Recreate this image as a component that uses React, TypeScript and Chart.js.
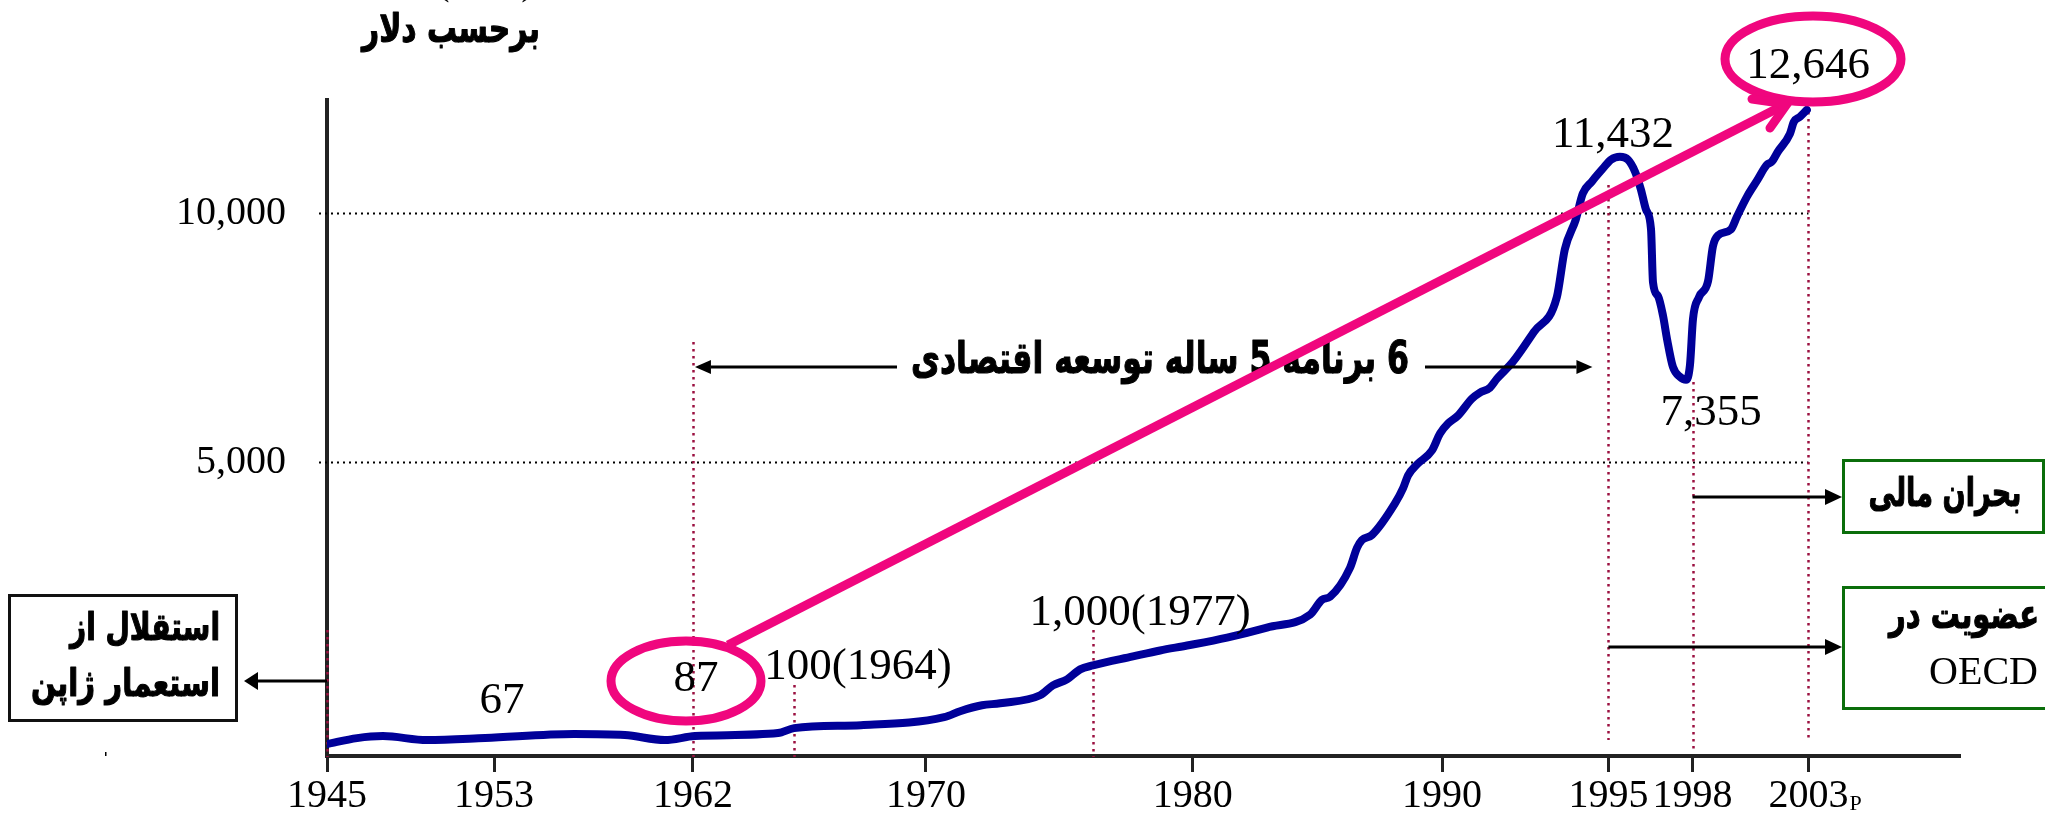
import React, { useEffect, useRef } from 'react';
import { Chart, LinearScale, registerables } from 'chart.js';

// ---------------- DATA ----------------
const xTickYears = [1945, 1953, 1962, 1970, 1980, 1990, 1995, 1998, 2003];
const yTickValues = [5000, 10000];

const years = [
  1945.0, 1946.44, 1947.68, 1949.79, 1952.57, 1956.62, 1958.92, 1960.73, 1962.07, 1964.92,
  1965.47, 1967.77, 1970.68, 1971.28, 1972.1, 1972.78, 1974.28, 1974.76, 1975.29, 1975.78,
  1976.26, 1977.76, 1978.78, 1979.79, 1981.38, 1982.98, 1984.71, 1985.19, 1985.51, 1986.31,
  1986.59, 1986.79, 1987.19, 1988.12, 1988.44, 1988.64, 1989.0, 1989.6, 1989.92, 1990.18,
  1990.48, 1990.9, 1991.14, 1991.44, 1991.65, 1992.13, 1992.76, 1993.45, 1993.69, 1994.02,
  1994.23, 1994.5, 1994.83, 1995.09, 1995.41, 1995.7, 1995.95, 1996.16, 1996.34, 1996.52,
  1996.59, 1996.77, 1996.95, 1997.09, 1997.3, 1997.55, 1997.77, 1997.91, 1998.02, 1998.28,
  1998.67, 1998.88, 1999.1, 1999.66, 1999.92, 2000.35, 2000.78, 2001.21, 2001.42, 2001.68,
  2002.2, 2002.37, 2002.63, 2002.93,
];
const gdpPerCapita = [
  203, 305, 339, 271, 305, 373, 356, 271, 339, 390,
  475, 525, 661, 763, 864, 898, 1034, 1203, 1305, 1475,
  1542, 1695, 1797, 1881, 2017, 2187, 2407, 2661, 2712, 3204,
  3543, 3678, 3763, 4305, 4560, 4780, 4966, 5240, 5580, 5780,
  5940, 6280, 6400, 6500, 6680, 7020, 7620, 8320, 9280, 9880,
  10526, 10842, 11184, 11421, 11500, 11421, 11105, 10632, 10105, 9680,
  8620, 8340, 7940, 7480, 6920, 6720, 6660, 6960, 7880, 8320,
  8640, 9340, 9560, 9680, 9940, 10447, 10869, 11290, 11370, 11632,
  12105, 12421, 12553, 12737,
];

// value labels written on the chart
const valueLabels = ['67', '87', '100(1964)', '1,000(1977)', '11,432', '7,355', '12,646'];

// ---------------- AXIS LAYOUT (hand-drawn, uneven axis spacing) ----------------
const X_WARP: [number, number][] = [
  [1945, 0], [1953, 0.1023], [1962, 0.2241], [1970, 0.3668], [1980, 0.5301],
  [1990, 0.6828], [1995, 0.7847], [1998, 0.8362], [2003, 0.9072], [2010, 1],
];
const Y_WARP: [number, number][] = [[0, 0], [5000, 0.4476], [10000, 0.827], [13000, 1]];

function warp(v: number, bps: [number, number][]) {
  let i = 0;
  while (i < bps.length - 2 && v > bps[i + 1][0]) i++;
  const [v0, f0] = bps[i];
  const [v1, f1] = bps[i + 1];
  return f0 + ((v - v0) / (v1 - v0)) * (f1 - f0);
}
function unwarp(f: number, bps: [number, number][]) {
  let i = 0;
  while (i < bps.length - 2 && f > bps[i + 1][1]) i++;
  const [v0, f0] = bps[i];
  const [v1, f1] = bps[i + 1];
  return v0 + ((f - f0) / (f1 - f0)) * (v1 - v0);
}

class XWarpScale extends LinearScale {
  static id = 'xwarp';
  getPixelForValue(value: any) {
    if (value === null || value === undefined || isNaN(value)) return NaN;
    return (this as any).getPixelForDecimal(warp(+value, X_WARP));
  }
  getValueForPixel(pixel: number) {
    return unwarp((this as any).getDecimalForPixel(pixel), X_WARP);
  }
}
class YWarpScale extends LinearScale {
  static id = 'ywarp';
  getPixelForValue(value: any) {
    if (value === null || value === undefined || isNaN(value)) return NaN;
    return (this as any).getPixelForDecimal(warp(+value, Y_WARP));
  }
  getValueForPixel(pixel: number) {
    return unwarp((this as any).getDecimalForPixel(pixel), Y_WARP);
  }
}

Chart.register(...registerables, XWarpScale as any, YWarpScale as any);

const SERIF = '"Liberation Serif", "Times New Roman", serif';
const ARABIC = '"DejaVu Sans", "Noto Sans", sans-serif';
const PINK = '#F0067E';
const MARKER = '#9B1040';
const GREEN = '#0B6E0B';

// bold Persian text, condensed horizontally to the width it takes in the picture
function drawPersian(ctx: CanvasRenderingContext2D, text: string, x: number, y: number, width: number, size: number, align: CanvasTextAlign) {
  ctx.save();
  ctx.direction = 'rtl';
  ctx.textBaseline = 'middle';
  ctx.font = `bold ${size}px ${ARABIC}`;
  const w = ctx.measureText(text).width || 1;
  const sx = Math.min(1, width / w);
  ctx.translate(x, y);
  ctx.scale(sx, 1);
  ctx.textAlign = align;
  ctx.fillStyle = '#000';
  ctx.strokeStyle = '#000';
  ctx.lineWidth = 1.2;
  ctx.lineJoin = 'round';
  ctx.fillText(text, 0, 0);
  ctx.strokeText(text, 0, 0);
  ctx.restore();
}

function drawArrow(ctx: CanvasRenderingContext2D, x1: number, y1: number, x2: number, y2: number, len: number, half: number, width: number, color: string) {
  const a = Math.atan2(y2 - y1, x2 - x1);
  const bx = x2 - len * Math.cos(a);
  const by = y2 - len * Math.sin(a);
  ctx.strokeStyle = color;
  ctx.lineWidth = width;
  ctx.setLineDash([]);
  ctx.beginPath();
  ctx.moveTo(x1, y1);
  ctx.lineTo(bx, by);
  ctx.stroke();
  ctx.fillStyle = color;
  ctx.beginPath();
  ctx.moveTo(x2, y2);
  ctx.lineTo(bx + half * Math.sin(a), by - half * Math.cos(a));
  ctx.lineTo(bx - half * Math.sin(a), by + half * Math.cos(a));
  ctx.closePath();
  ctx.fill();
}

// marker lines (year, top px, bottom px)
const markers: [number, number, number][] = [
  [1945, 630, 757], [1962, 342, 757], [1965.47, 685, 757], [1976.26, 630, 757],
  [1995, 185, 740], [1998, 382, 753], [2003, 112, 742],
];

const annotationPlugin = {
  id: 'annotations',
  beforeDatasetsDraw(chart: any) {
    const { ctx } = chart;
    const xs = chart.scales.x;
    const ys = chart.scales.y;
    ctx.save();
    ctx.strokeStyle = '#000';
    ctx.lineWidth = 2;
    ctx.setLineDash([2, 4]);
    for (const v of yTickValues) {
      const py = Math.round(ys.getPixelForValue(v)) + 0.5;
      ctx.beginPath();
      ctx.moveTo(xs.left - 8, py);
      ctx.lineTo(xs.getPixelForValue(2003), py);
      ctx.stroke();
    }
    ctx.strokeStyle = MARKER;
    ctx.lineWidth = 2.5;
    ctx.setLineDash([2.5, 4.5]);
    for (const [yr, top, bottom] of markers) {
      const px = Math.round(xs.getPixelForValue(yr)) + 0.5;
      ctx.beginPath();
      ctx.moveTo(px, top);
      ctx.lineTo(px, bottom);
      ctx.stroke();
    }
    ctx.restore();
  },
  afterDatasetsDraw(chart: any) {
    const { ctx } = chart;
    const xs = chart.scales.x;
    ctx.save();
    ctx.setLineDash([]);
    ctx.fillStyle = '#000';

    // cut-off top line
    ctx.direction = 'ltr';
    ctx.textAlign = 'center';
    ctx.textBaseline = 'alphabetic';
    ctx.font = `40px ${SERIF}`;
    ctx.fillText('(', 443, -6);
    ctx.fillText(')', 528, -6);

    // Persian texts
    drawPersian(ctx, 'برحسب دلار', 451, 32, 178, 40, 'center');
    drawPersian(ctx, '6 برنامه 5 ساله توسعه اقتصادی', 1160, 362, 498, 44, 'center');

    // left box
    ctx.strokeStyle = '#111';
    ctx.lineWidth = 3;
    ctx.strokeRect(9.5, 595.5, 227, 125);
    drawPersian(ctx, 'استقلال از', 220, 630, 150, 38, 'right');
    drawPersian(ctx, 'استعمار ژاپن', 220, 686, 189, 38, 'right');

    // right green boxes
    ctx.strokeStyle = GREEN;
    ctx.lineWidth = 3;
    ctx.strokeRect(1843.5, 460.5, 200, 72);
    ctx.strokeRect(1843.5, 587.5, 215, 121);
    drawPersian(ctx, 'بحران مالی', 1945, 496, 153, 40, 'center');
    drawPersian(ctx, 'عضویت در', 2039, 618, 150, 40, 'right');

    ctx.fillStyle = '#000';
    ctx.direction = 'ltr';
    ctx.textAlign = 'right';
    ctx.textBaseline = 'middle';
    ctx.font = `40px ${SERIF}`;
    ctx.fillText('OECD', 2038, 673);

    // numbers
    ctx.textAlign = 'center';
    ctx.font = `45px ${SERIF}`;
    const labelPos: [number, number][] = [
      [502, 701], [696, 679], [858, 667], [1140, 613], [1613, 135], [1711, 413], [1808, 66],
    ];
    valueLabels.forEach((t, i) => ctx.fillText(t, labelPos[i][0], labelPos[i][1]));

    // small "P" after 2003
    ctx.textAlign = 'left';
    ctx.textBaseline = 'alphabetic';
    ctx.font = `22px ${SERIF}`;
    ctx.fillText('P', xs.getPixelForValue(2003) + 41, 810);

    // tiny stray mark
    ctx.fillRect(105, 752, 1.5, 4);

    // black arrows
    const x1962 = xs.getPixelForValue(1962);
    const x1995 = xs.getPixelForValue(1995);
    const x1998 = xs.getPixelForValue(1998);
    drawArrow(ctx, 897, 367, x1962 + 2, 367, 16, 7, 3, '#000');
    drawArrow(ctx, 1425, 367, x1995 - 16, 367, 16, 7, 3, '#000');
    drawArrow(ctx, xs.left, 681, 244, 681, 14, 9, 3, '#000');
    drawArrow(ctx, x1998, 497, 1842, 497, 17, 8, 3, '#000');
    drawArrow(ctx, x1995, 647, 1842, 647, 17, 8, 3, '#000');

    // pink highlight
    ctx.strokeStyle = PINK;
    ctx.lineWidth = 9;
    ctx.lineCap = 'round';
    ctx.beginPath();
    ctx.ellipse(686, 681, 75, 40, 0, 0, Math.PI * 2);
    ctx.stroke();
    ctx.beginPath();
    ctx.ellipse(1813, 59, 88, 43, 0, 0, Math.PI * 2);
    ctx.stroke();
    ctx.lineCap = 'butt';
    ctx.beginPath();
    ctx.moveTo(728, 645);
    ctx.lineTo(1786, 104);
    ctx.stroke();
    ctx.lineCap = 'round';
    ctx.beginPath();
    ctx.moveTo(1752, 99);
    ctx.lineTo(1787, 104);
    ctx.lineTo(1770, 128);
    ctx.stroke();

    ctx.restore();
  },
};

export default function App() {
  const ref = useRef<HTMLCanvasElement | null>(null);
  useEffect(() => {
    if (!ref.current) return;
    const data = years.map((yr, i) => ({ x: yr, y: gdpPerCapita[i] }));
    const chart = new Chart(ref.current, {
      type: 'line',
      data: {
        datasets: [
          {
            data,
            borderColor: '#000099',
            borderWidth: 8,
            pointRadius: 0,
            fill: false,
            cubicInterpolationMode: 'monotone',
            borderCapStyle: 'round',
            borderJoinStyle: 'round',
          } as any,
        ],
      },
      options: {
        animation: false,
        responsive: false,
        devicePixelRatio: 1,
        events: [],
        layout: { padding: { top: 100, right: 85, left: 0, bottom: 0 } },
        plugins: { legend: { display: false }, tooltip: { enabled: false } },
        scales: {
          x: {
            type: 'xwarp' as any,
            min: 1945,
            max: 2010,
            afterBuildTicks: (s: any) => {
              s.ticks = xTickYears.map((v) => ({ value: v }));
            },
            afterFit: (s: any) => {
              s.height = 58;
            },
            grid: {
              display: true,
              drawOnChartArea: false,
              drawTicks: true,
              tickLength: 16,
              tickWidth: 3,
              tickColor: '#222',
              color: '#222',
            },
            border: { display: true, color: '#222', width: 4 },
            ticks: {
              autoSkip: false,
              maxRotation: 0,
              minRotation: 0,
              padding: 4,
              color: '#000',
              font: { family: SERIF, size: 40, lineHeight: 1 },
              callback: (v: any) => String(v),
            },
          } as any,
          y: {
            type: 'ywarp' as any,
            min: 0,
            max: 13000,
            afterBuildTicks: (s: any) => {
              s.ticks = yTickValues.map((v) => ({ value: v }));
            },
            afterFit: (s: any) => {
              s.width = 327;
            },
            grid: { display: false, drawTicks: false },
            border: { display: true, color: '#222', width: 4 },
            ticks: {
              padding: 41,
              color: '#000',
              font: { family: SERIF, size: 40, lineHeight: 1 },
              callback: (v: any) => Number(v).toLocaleString('en-US'),
            },
          } as any,
        },
      },
      plugins: [annotationPlugin],
    });
    return () => chart.destroy();
  }, []);
  return (
    <div style={{ position: 'fixed', left: 0, top: 0, width: 2045, height: 817, background: '#fff' }}>
      <canvas ref={ref} width={2045} height={817} style={{ display: 'block', width: 2045, height: 817 }} />
    </div>
  );
}
